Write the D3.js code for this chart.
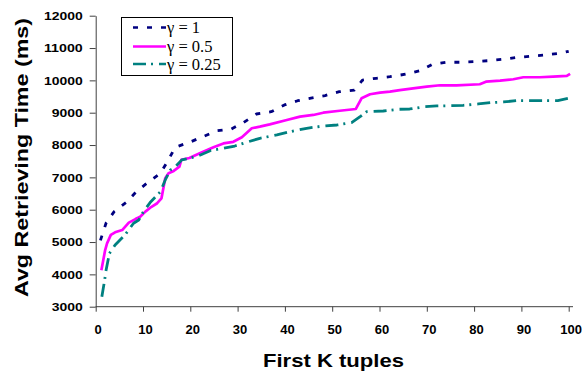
<!DOCTYPE html>
<html>
<head>
<meta charset="utf-8">
<script src="https://cdn.jsdelivr.net/npm/d3@7"></script>
<style>
  html, body { margin: 0; padding: 0; background: #fff; }
  svg { display: block; }
</style>
</head>
<body>
<svg id="chart" width="582" height="372"></svg>
<script>
// ---- data ----
const seriesNames = ["γ = 1", "γ = 0.5", "γ = 0.25"];

const k1 = [1, 2.2, 3.9, 6.5, 8.6, 11, 13.7, 15.3, 16.8, 19.9, 22.7, 25.6, 28.6, 31.2, 34, 37.1, 39.9, 42.7, 45.5, 48.5, 51.5, 54.7, 56.4, 59.3, 62.2, 65.5, 68.6, 71.2, 74, 77, 80, 83.2, 86, 89, 92.2, 95.2, 98.2, 100];
const v1 = [5050, 5590, 5940, 6230, 6560, 6840, 7130, 7520, 7930, 8090, 8260, 8440, 8490, 8690, 8960, 9030, 9240, 9370, 9450, 9530, 9650, 9700, 10010, 10065, 10114, 10190, 10300, 10500, 10560, 10560, 10580, 10610, 10650, 10710, 10750, 10790, 10840, 10900];

const k2 = [1.2, 2, 2.4, 3.2, 4.1, 5.6, 7, 8.4, 9.4, 10.5, 11.8, 13, 13.9, 14.7, 15.4, 16.5, 17.7, 18.1, 19.8, 22, 24.9, 27, 29.1, 30.9, 33, 34.7, 36.8, 40.4, 43.2, 46, 48.1, 51.6, 55, 56.2, 58, 60.1, 62.2, 64.3, 67.1, 70, 72.8, 76.3, 81.2, 82.5, 85.5, 88.3, 90.4, 93.9, 96.7, 99.6, 100.3];
const v2 = [4130, 4750, 4960, 5220, 5300, 5370, 5600, 5710, 5780, 5940, 6090, 6200, 6350, 6970, 7130, 7200, 7330, 7540, 7600, 7745, 7930, 8050, 8100, 8240, 8520, 8570, 8640, 8775, 8880, 8930, 9000, 9060, 9115, 9446, 9570, 9620, 9650, 9700, 9755, 9805, 9848, 9848, 9880, 9960, 9990, 10034, 10096, 10096, 10114, 10136, 10200];

const k3 = [1.3, 1.9, 2.2, 2.9, 4.1, 6.3, 8, 9.1, 10.1, 11.5, 13.7, 14.7, 15.8, 16.5, 18.2, 19.8, 21.6, 24.2, 27, 29.4, 31.9, 34.7, 38.3, 41.1, 44.6, 48.1, 51, 54.1, 55.9, 57.3, 60.8, 64, 66.4, 69.6, 72.1, 75.3, 77.7, 80.9, 83.4, 86.2, 89, 92.2, 94.6, 97.7, 100];
const v3 = [3310, 3830, 4135, 4650, 4910, 5240, 5580, 5680, 5940, 6220, 6560, 6920, 7230, 7280, 7540, 7590, 7660, 7826, 7900, 7970, 8085, 8208, 8311, 8413, 8518, 8589, 8620, 8692, 8877, 9032, 9053, 9105, 9115, 9186, 9208, 9217, 9229, 9270, 9310, 9332, 9372, 9372, 9372, 9372, 9446];

const xTicks = [0, 10, 20, 30, 40, 50, 60, 70, 80, 90, 100];
const yTicks = [3000, 4000, 5000, 6000, 7000, 8000, 9000, 10000, 11000, 12000];

const colors = ["#000080", "#FF00FF", "#008080"];
const dashes = ["5,9", null, "13,5,2,6"];

// ---- drawing ----
const svg = d3.select("#chart");
const x = d3.scaleLinear().domain([0, 100]).range([95.7, 568.7]);
const y = d3.scaleLinear().domain([3000, 12000]).range([306.7, 15.7]);
const axisColor = "#404040";

// X axis
const xg = svg.append("g").attr("transform", `translate(0,${y(3000)})`)
  .call(d3.axisBottom(x).tickValues(xTicks).tickSize(5).tickSizeOuter(0).tickFormat(d3.format("d")));
xg.select(".domain").attr("stroke", axisColor).attr("d", `M${x(0)},0H573`);
xg.selectAll(".tick line").attr("stroke", axisColor);
xg.selectAll(".tick text").attr("font-family", "Liberation Sans, Arial, sans-serif")
  .attr("font-weight", "bold").attr("font-size", 13).attr("fill", "#000")
  .attr("dy", null).attr("y", 27.5).attr("dx", 2);

// Y axis
const yg = svg.append("g").attr("transform", `translate(${x(0)},0)`)
  .call(d3.axisLeft(y).tickValues(yTicks).tickSize(6).tickSizeOuter(0).tickFormat(d3.format("d")));
yg.select(".domain").attr("stroke", axisColor);
yg.selectAll(".tick line").attr("stroke", axisColor);
yg.selectAll(".tick text").attr("font-family", "Liberation Sans, Arial, sans-serif")
  .attr("font-weight", "bold").attr("font-size", 10.5).attr("fill", "#000")
  .attr("x", -13).attr("dy", "0.36em")
  .attr("textLength", d => String(d).length * 7.75).attr("lengthAdjust", "spacingAndGlyphs");

// Lines
const line = d3.line().x(d => x(d[0])).y(d => y(d[1]));
const allSeries = [
  d3.zip(k1, v1),
  d3.zip(k2, v2),
  d3.zip(k3, v3)
];
allSeries.forEach((s, i) => {
  svg.append("path").datum(s)
    .attr("fill", "none")
    .attr("stroke", colors[i])
    .attr("stroke-width", i === 1 ? 2.7 : 2.8)
    .attr("stroke-dasharray", dashes[i])
    .attr("stroke-linejoin", "round")
    .attr("d", line);
});

// Axis titles
svg.append("text").attr("x", 333.5).attr("y", 367)
  .attr("text-anchor", "middle")
  .attr("font-family", "Liberation Sans, Arial, sans-serif")
  .attr("font-weight", "bold").attr("font-size", 19)
  .attr("textLength", 141).attr("lengthAdjust", "spacingAndGlyphs")
  .text("First K tuples");
svg.append("text")
  .attr("transform", "translate(28,157.5) rotate(-90)")
  .attr("text-anchor", "middle")
  .attr("font-family", "Liberation Sans, Arial, sans-serif")
  .attr("font-weight", "bold").attr("font-size", 19)
  .attr("textLength", 279).attr("lengthAdjust", "spacingAndGlyphs")
  .text("Avg Retrieving Time (ms)");

// Legend
const lg = svg.append("g");
lg.append("rect").attr("x", 121.5).attr("y", 17.5).attr("width", 111).attr("height", 58)
  .attr("fill", "#fff").attr("stroke", "#000").attr("stroke-width", 1);
const rowY = [27.5, 46.5, 64];
seriesNames.forEach((name, i) => {
  lg.append("line").attr("x1", 133).attr("x2", 166)
    .attr("y1", rowY[i]).attr("y2", rowY[i])
    .attr("stroke", colors[i]).attr("stroke-width", 2.6)
    .attr("stroke-dasharray", dashes[i]);
  lg.append("text").attr("x", 167).attr("y", rowY[i]).attr("dy", "0.35em")
    .attr("font-family", "Liberation Serif, Times New Roman, serif")
    .attr("font-size", 16.5).attr("fill", "#000")
    .text(name);
});
</script>
</body>
</html>
